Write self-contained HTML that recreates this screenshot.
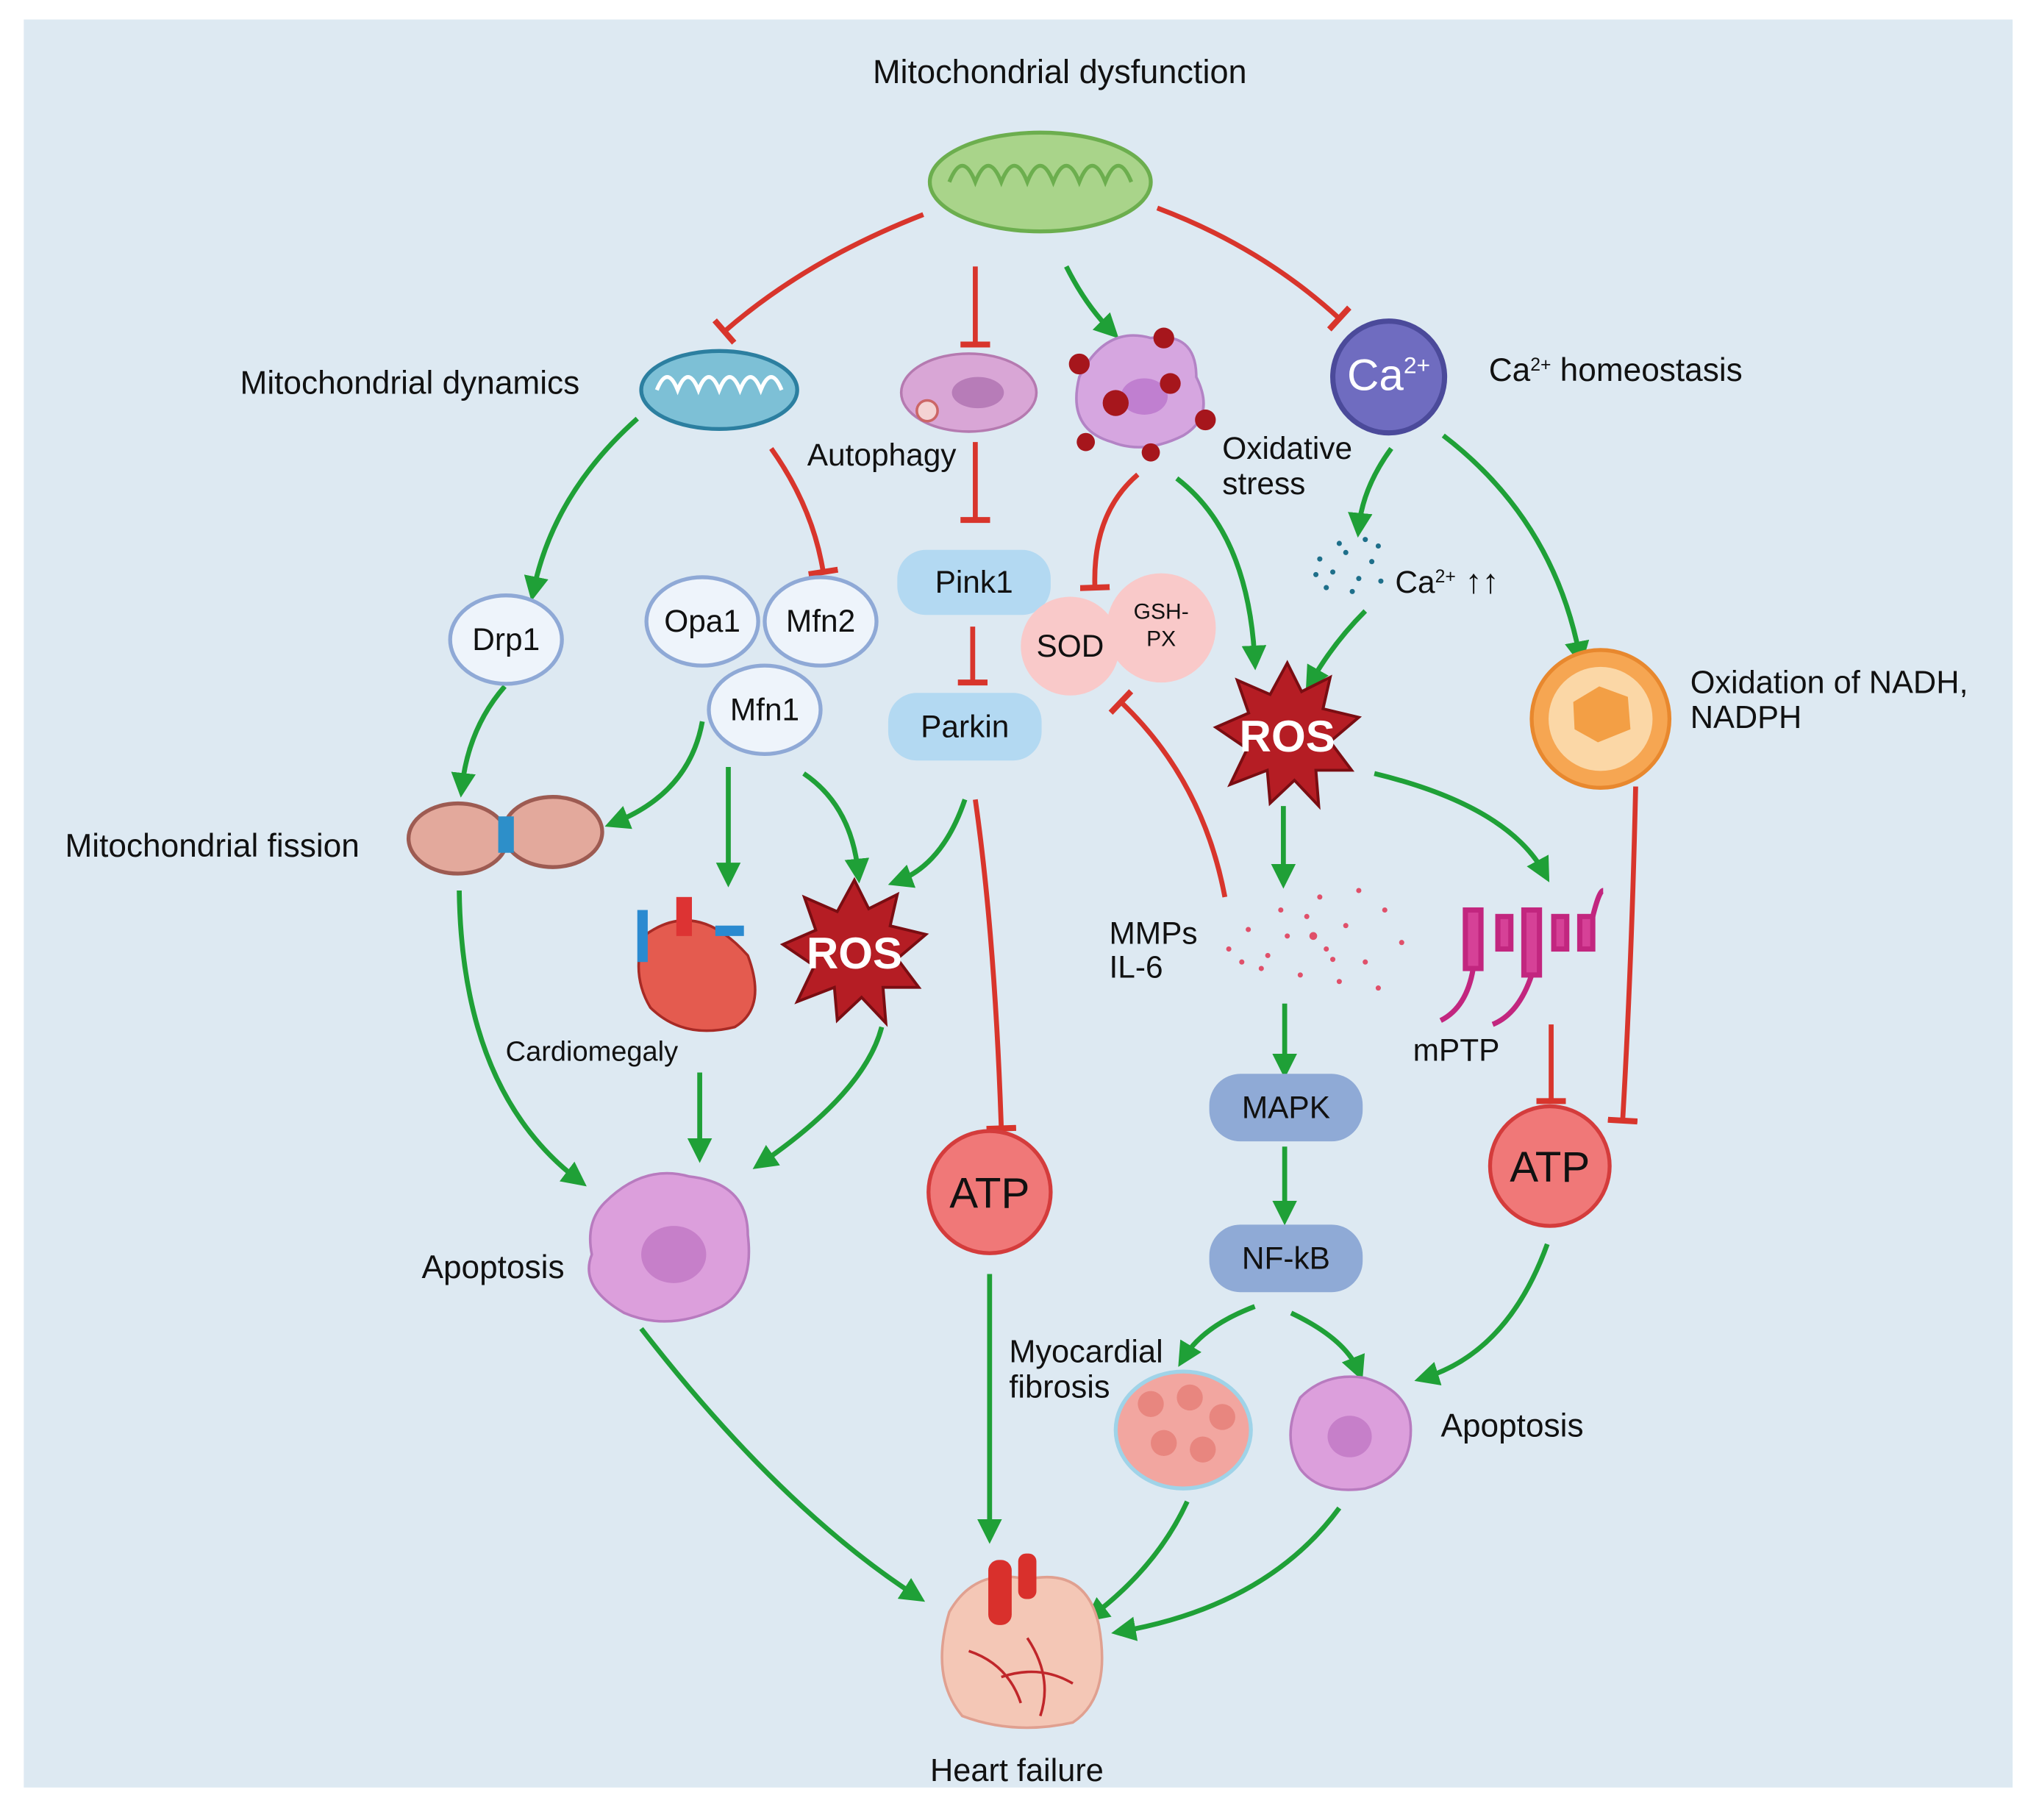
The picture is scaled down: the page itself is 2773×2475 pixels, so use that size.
<!DOCTYPE html>
<html><head><meta charset="utf-8"><style>
html,body{margin:0;padding:0;background:#fff}
svg{display:block}
text{font-family:"Liberation Sans",sans-serif;fill:#111}
</style></head><body>
<svg width="2773" height="2475" viewBox="0 0 1568 1400" xmlns="http://www.w3.org/2000/svg">
<defs>
<marker id="ga" viewBox="0 0 10 10" refX="6" refY="5" markerWidth="5" markerHeight="5" orient="auto" markerUnits="strokeWidth"><path d="M0,0 L10,5 L0,10 z" fill="#1fa037"/></marker>
<marker id="rt" viewBox="0 0 10 10" refX="5" refY="5" markerWidth="6" markerHeight="6" orient="auto" markerUnits="strokeWidth"><rect x="4" y="0" width="2" height="10" fill="#d8352c"/></marker>
<g id="star"><polygon points="0,-50 10,-30 30,-40 25,-18 50,-12 30,5 45,25 20,25 22,50 5,32 -12,48 -14,25 -40,35 -28,10 -50,-5 -27,-15 -35,-38 -12,-28" fill="#b51d24" stroke="#7a0d12" stroke-width="2"/></g>
</defs>
<rect x="18" y="15" width="1530" height="1360" fill="#dde9f2"/>
<g stroke-width="3.8" fill="none">
<g stroke="#d8352c" marker-end="url(#rt)">
<path d="M710,165 Q620,200 557,255"/>
<path d="M750,205 L750,265"/>
<path d="M890,160 Q970,190 1030,245"/>
<path d="M593,345 Q625,390 633,440"/>
<path d="M750,340 L750,400"/>
<path d="M748,482 L748,525"/>
<path d="M875,365 Q840,395 842,452"/>
<path d="M750,615 Q765,720 770,868"/>
<path d="M942,690 Q925,600 862,540"/>
<path d="M1258,605 Q1255,740 1248,862"/>
<path d="M1193,788 L1193,847"/>
</g>
<g stroke="#1fa037" marker-end="url(#ga)">
<path d="M820,205 Q835,235 855,255"/>
<path d="M490,322 Q425,380 410,455"/>
<path d="M905,368 Q960,410 965,508"/>
<path d="M1070,345 Q1048,375 1045,406"/>
<path d="M1050,470 Q1025,495 1008,525"/>
<path d="M1110,335 Q1195,400 1215,505"/>
<path d="M388,528 Q360,560 355,606"/>
<path d="M540,555 Q530,610 472,633"/>
<path d="M560,590 L560,675"/>
<path d="M618,595 Q655,620 660,672"/>
<path d="M742,615 Q725,665 690,678"/>
<path d="M987,620 L987,676"/>
<path d="M1057,595 Q1160,620 1188,672"/>
<path d="M988,772 L988,822"/>
<path d="M988,882 L988,935"/>
<path d="M353,685 Q355,840 445,908"/>
<path d="M538,825 L538,887"/>
<path d="M678,790 Q665,840 585,895"/>
<path d="M761,980 L761,1180"/>
<path d="M965,1005 Q925,1020 910,1045"/>
<path d="M993,1010 Q1035,1030 1045,1055"/>
<path d="M1190,957 Q1160,1040 1095,1060"/>
<path d="M493,1022 Q600,1160 705,1228"/>
<path d="M913,1155 Q890,1205 840,1243"/>
<path d="M1030,1160 Q975,1235 862,1255"/>
</g>
</g>
<!-- top mito -->
<ellipse cx="800" cy="140" rx="85" ry="38" fill="#a9d48a" stroke="#6cae4e" stroke-width="3"/>
<path d="M730,140 q10,-25 20,0 q10,-25 20,0 q10,-25 20,0 q10,-25 20,0 q10,-25 20,0 q10,-25 20,0 q10,-25 20,0" fill="none" stroke="#6cae4e" stroke-width="3"/>
<text x="815" y="64" font-size="25.5" text-anchor="middle">Mitochondrial dysfunction</text>
<!-- mito dynamics -->
<ellipse cx="553" cy="300" rx="60" ry="30" fill="#7dc0d6" stroke="#2c7fa0" stroke-width="3"/>
<path d="M505,300 q8,-20 16,0 q8,-20 16,0 q8,-20 16,0 q8,-20 16,0 q8,-20 16,0 q8,-20 16,0" fill="none" stroke="#fff" stroke-width="3"/>
<text x="315" y="303" font-size="25" text-anchor="middle">Mitochondrial dynamics</text>
<!-- autophagy -->
<ellipse cx="745" cy="302" rx="52" ry="30" fill="#d9a6d6" stroke="#b57ab0" stroke-width="2"/>
<ellipse cx="752" cy="302" rx="20" ry="12" fill="#b77cb8"/>
<circle cx="713" cy="316" r="8" fill="#f4d3d3" stroke="#c66" stroke-width="2"/>
<text x="678" y="358" font-size="24" text-anchor="middle">Autophagy</text>
<!-- oxidative -->
<path d="M830,290 q20,-40 55,-30 q35,-5 35,30 q15,30 -10,45 q-30,15 -55,5 q-35,-10 -25,-50z" fill="#d6a6e0" stroke="#b383c5" stroke-width="2"/>
<ellipse cx="880" cy="305" rx="18" ry="14" fill="#c07fd0"/>
<g fill="#a6161c"><circle cx="830" cy="280" r="8"/><circle cx="895" cy="260" r="8"/><circle cx="858" cy="310" r="10"/><circle cx="900" cy="295" r="8"/><circle cx="927" cy="323" r="8"/><circle cx="835" cy="340" r="7"/><circle cx="885" cy="348" r="7"/></g>
<text x="940" y="353" font-size="24">Oxidative</text><text x="940" y="380" font-size="24">stress</text>
<!-- Ca -->
<circle cx="1068" cy="290" r="43" fill="#6f6cc0" stroke="#4b4a9a" stroke-width="4"/>
<text x="1068" y="300" font-size="34" text-anchor="middle" style="fill:#fff">Ca<tspan font-size="18" dy="-13">2+</tspan></text>
<text x="1145" y="293" font-size="25">Ca<tspan font-size="14" dy="-8">2+</tspan><tspan dy="8"> homeostasis</tspan></text>
<!-- Pink1 Parkin -->
<rect x="690" y="423" width="118" height="50" rx="22" fill="#b3d9f2"/>
<text x="749" y="456" font-size="24" text-anchor="middle">Pink1</text>
<rect x="683" y="533" width="118" height="52" rx="22" fill="#b3d9f2"/>
<text x="742" y="567" font-size="24" text-anchor="middle">Parkin</text>
<!-- ellipses -->
<g fill="#eef4fb" stroke="#8fa9d6" stroke-width="3">
<ellipse cx="389" cy="492" rx="43" ry="34"/>
<ellipse cx="540" cy="478" rx="43" ry="34"/>
<ellipse cx="631" cy="478" rx="43" ry="34"/>
<ellipse cx="588" cy="546" rx="43" ry="34"/>
</g>
<text x="389" y="500" font-size="24" text-anchor="middle">Drp1</text>
<text x="540" y="486" font-size="24" text-anchor="middle">Opa1</text>
<text x="631" y="486" font-size="24" text-anchor="middle">Mfn2</text>
<text x="588" y="554" font-size="24" text-anchor="middle">Mfn1</text>
<!-- SOD -->
<circle cx="823" cy="497" r="38" fill="#f9c9c9"/>
<circle cx="893" cy="483" r="42" fill="#f9c9c9"/>
<text x="823" y="505" font-size="24" text-anchor="middle">SOD</text>
<text x="893" y="476" font-size="17" text-anchor="middle">GSH-</text><text x="893" y="497" font-size="17" text-anchor="middle">PX</text>
<!-- Ca dots -->
<g fill="#1e6f8a"><circle cx="1015" cy="430" r="2"/><circle cx="1025" cy="440" r="2"/><circle cx="1035" cy="425" r="2"/><circle cx="1045" cy="445" r="2"/><circle cx="1055" cy="432" r="2"/><circle cx="1040" cy="455" r="2"/><circle cx="1030" cy="418" r="2"/><circle cx="1060" cy="420" r="2"/><circle cx="1020" cy="452" r="2"/><circle cx="1050" cy="415" r="2"/><circle cx="1012" cy="442" r="2"/><circle cx="1062" cy="447" r="2"/></g>
<text x="1073" y="456" font-size="24">Ca<tspan font-size="14" dy="-8">2+</tspan><tspan dy="8" font-size="26"> ↑↑</tspan></text>
<!-- ROS -->
<g transform="translate(990,565) scale(1.1)"><use href="#star"/></g>
<text x="990" y="578" font-size="34" font-weight="bold" text-anchor="middle" style="fill:#fff">ROS</text>
<g transform="translate(657,732) scale(1.1)"><use href="#star"/></g>
<text x="657" y="745" font-size="34" font-weight="bold" text-anchor="middle" style="fill:#fff">ROS</text>
<!-- oxidation -->
<circle cx="1231" cy="553" r="53" fill="#f6a652" stroke="#e8882e" stroke-width="3"/>
<circle cx="1231" cy="553" r="40" fill="#fbd7a6"/>
<path d="M1210,540 l20,-12 l22,8 l2,25 l-25,10 l-18,-10z" fill="#f39f45"/>
<text x="1300" y="533" font-size="24.5">Oxidation of NADH,</text><text x="1300" y="560" font-size="24.5">NADPH</text>
<!-- fission -->
<ellipse cx="352" cy="645" rx="38" ry="27" fill="#e3a99c" stroke="#9d5b52" stroke-width="3"/>
<ellipse cx="425" cy="640" rx="38" ry="27" fill="#e3a99c" stroke="#9d5b52" stroke-width="3"/>
<rect x="383" y="628" width="12" height="28" fill="#2d8fc9"/>
<text x="163" y="659" font-size="25" text-anchor="middle">Mitochondrial fission</text>
<!-- heart cardiomegaly -->
<path d="M495,720 q40,-30 80,15 q15,40 -10,55 q-40,10 -65,-15 q-15,-25 -5,-55z" fill="#e45b4f" stroke="#a82a25" stroke-width="2"/>
<rect x="520" y="690" width="12" height="30" fill="#d33"/><rect x="550" y="712" width="22" height="8" fill="#2a8ad0"/><rect x="490" y="700" width="8" height="40" fill="#2a8ad0"/>
<text x="455" y="816" font-size="21.5" text-anchor="middle">Cardiomegaly</text>
<!-- MMPs -->
<g fill="#e0506a">
<circle cx="945" cy="730" r="2"/><circle cx="960" cy="715" r="2"/><circle cx="975" cy="735" r="2"/><circle cx="990" cy="720" r="2"/><circle cx="1005" cy="705" r="2"/><circle cx="1020" cy="730" r="2"/><circle cx="1035" cy="712" r="2"/><circle cx="1050" cy="740" r="2"/><circle cx="1065" cy="700" r="2"/><circle cx="1078" cy="725" r="2"/><circle cx="1000" cy="750" r="2"/><circle cx="1015" cy="690" r="2"/><circle cx="985" cy="700" r="2"/><circle cx="1030" cy="755" r="2"/><circle cx="1060" cy="760" r="2"/><circle cx="970" cy="745" r="2"/><circle cx="1045" cy="685" r="2"/><circle cx="1010" cy="720" r="3"/><circle cx="1025" cy="738" r="2"/><circle cx="955" cy="740" r="2"/>
</g>
<text x="853" y="726" font-size="24">MMPs</text><text x="853" y="752" font-size="24">IL-6</text>
<!-- mPTP -->
<g stroke="#c2267f" stroke-width="4" fill="#d64197">
<rect x="1127" y="700" width="12" height="45"/><rect x="1172" y="700" width="12" height="50"/><rect x="1152" y="705" width="10" height="25"/><rect x="1195" y="705" width="10" height="25"/><rect x="1215" y="705" width="10" height="25"/>
<path d="M1133,745 q-5,30 -25,40" fill="none"/><path d="M1178,750 q-10,30 -30,38" fill="none"/><path d="M1225,705 q5,-20 8,-20" fill="none"/>
</g>
<text x="1120" y="816" font-size="24" text-anchor="middle">mPTP</text>
<!-- ATP -->
<circle cx="761" cy="917" r="47" fill="#f07878" stroke="#d43c3c" stroke-width="3"/>
<text x="761" y="929" font-size="33" text-anchor="middle">ATP</text>
<circle cx="1192" cy="897" r="46" fill="#f07878" stroke="#d43c3c" stroke-width="3"/>
<text x="1192" y="909" font-size="33" text-anchor="middle">ATP</text>
<!-- MAPK NFkB -->
<rect x="930" y="826" width="118" height="52" rx="24" fill="#8faad6"/>
<text x="989" y="860" font-size="24" text-anchor="middle">MAPK</text>
<rect x="930" y="942" width="118" height="52" rx="24" fill="#8faad6"/>
<text x="989" y="976" font-size="24" text-anchor="middle">NF-kB</text>
<!-- apoptosis 1 -->
<path d="M465,925 q30,-30 65,-20 q45,5 45,45 q5,40 -20,55 q-40,20 -75,5 q-35,-20 -25,-45 q-5,-25 10,-40z" fill="#dc9fdc" stroke="#b87bbf" stroke-width="2"/>
<ellipse cx="518" cy="965" rx="25" ry="22" fill="#c67fc9"/>
<text x="379" y="983" font-size="25" text-anchor="middle">Apoptosis</text>
<!-- fibrosis -->
<ellipse cx="910" cy="1100" rx="52" ry="45" fill="#f2a6a0" stroke="#9fd3e8" stroke-width="3"/>
<g fill="#e8867f"><circle cx="885" cy="1080" r="10"/><circle cx="915" cy="1075" r="10"/><circle cx="940" cy="1090" r="10"/><circle cx="895" cy="1110" r="10"/><circle cx="925" cy="1115" r="10"/></g>
<text x="776" y="1048" font-size="24.5">Myocardial</text><text x="776" y="1075" font-size="24.5">fibrosis</text>
<!-- apoptosis 2 -->
<path d="M1000,1075 q20,-20 50,-15 q35,10 35,40 q0,35 -35,45 q-35,5 -50,-15 q-15,-25 0,-55z" fill="#dc9fdc" stroke="#b87bbf" stroke-width="2"/>
<ellipse cx="1038" cy="1105" rx="17" ry="16" fill="#c67fc9"/>
<text x="1163" y="1105" font-size="25" text-anchor="middle">Apoptosis</text>
<!-- heart failure -->
<path d="M730,1240 q20,-35 60,-25 q45,-10 55,35 q10,55 -20,75 q-45,10 -85,-5 q-25,-30 -10,-80z" fill="#f4c7b6" stroke="#e0a090" stroke-width="2"/>
<rect x="760" y="1200" width="18" height="50" rx="8" fill="#d9302c"/><rect x="783" y="1195" width="14" height="35" rx="6" fill="#d9302c"/>
<path d="M745,1270 q30,10 40,40 M790,1260 q20,30 10,60 M770,1290 q30,-10 55,5" fill="none" stroke="#c0262a" stroke-width="2"/>
<text x="782" y="1370" font-size="24.5" text-anchor="middle">Heart failure</text>
</svg>
</body></html>
